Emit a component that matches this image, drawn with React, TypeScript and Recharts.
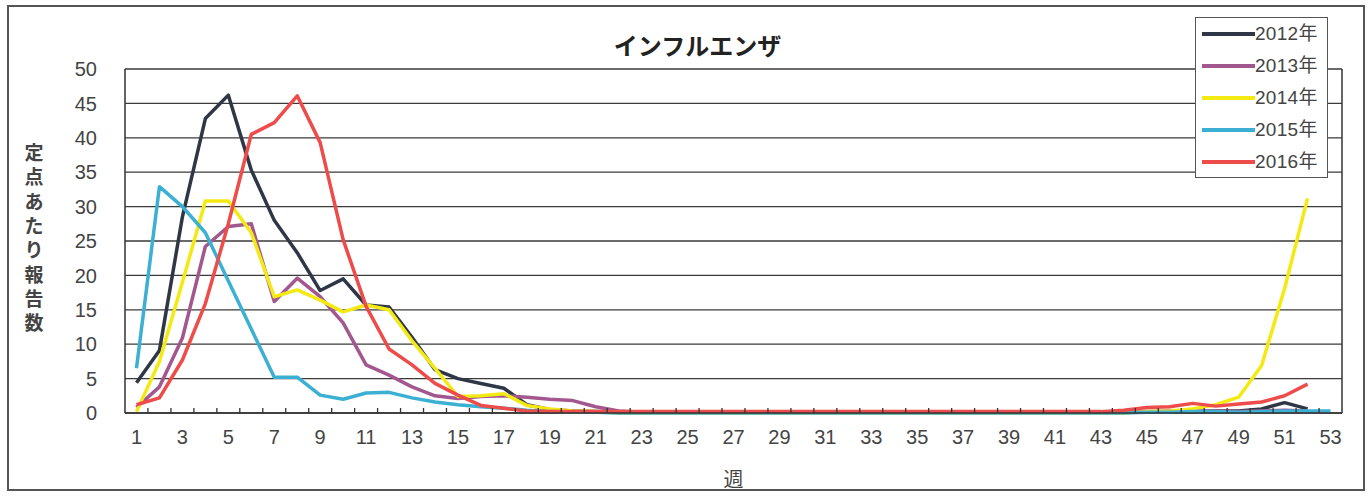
import React from 'react'
import { LineChart, Line, XAxis, YAxis, CartesianGrid, Label } from 'recharts'

// weekly reports per sentinel site, weeks 1..53
const WEEKS = [
  1, 2, 3, 4, 5, 6, 7, 8, 9, 10, 11, 12, 13, 14, 15, 16, 17, 18, 19, 20, 21, 22, 23, 24, 25, 26, 27,
  28, 29, 30, 31, 32, 33, 34, 35, 36, 37, 38, 39, 40, 41, 42, 43, 44, 45, 46, 47, 48, 49, 50, 51, 52, 53,
]
const WEEK_TICKS = [1, 3, 5, 7, 9, 11, 13, 15, 17, 19, 21, 23, 25, 27, 29, 31, 33, 35, 37, 39, 41, 43, 45, 47, 49, 51, 53]
const MINOR_TICKS = [
  1.5, 2.5, 3.5, 4.5, 5.5, 6.5, 7.5, 8.5, 9.5, 10.5, 11.5, 12.5, 13.5, 14.5, 15.5, 16.5, 17.5, 18.5, 19.5,
  20.5, 21.5, 22.5, 23.5, 24.5, 25.5, 26.5, 27.5, 28.5, 29.5, 30.5, 31.5, 32.5, 33.5, 34.5, 35.5, 36.5,
  37.5, 38.5, 39.5, 40.5, 41.5, 42.5, 43.5, 44.5, 45.5, 46.5, 47.5, 48.5, 49.5, 50.5, 51.5, 52.5,
]
const Y_TICKS = [0, 5, 10, 15, 20, 25, 30, 35, 40, 45, 50]

const Y2012 = [
  4.4, 9.1, 28.5, 42.8, 46.2, 35.3, 28.0, 23.3, 17.8, 19.5, 15.7, 15.4, 11.0, 6.3, 5.0, 4.3, 3.6, 1.2, 0.5, 0.3, 0.2,
  0.1, 0.1, 0.1, 0.1, 0.1, 0.1, 0.1, 0.1, 0.1, 0.1, 0.1, 0.1, 0.1, 0.1, 0.1, 0.1, 0.1, 0.1, 0.1, 0.1, 0.1, 0.1, 0.1,
  0.1, 0.2, 0.2, 0.3, 0.3, 0.6, 1.5, 0.6, null,
]
const Y2013 = [
  0.8, 3.8, 10.9, 24.2, 27.1, 27.5, 16.2, 19.6, 16.9, 13.1, 7.0, 5.5, 3.8, 2.5, 2.1, 2.4, 2.5, 2.3, 2.0, 1.8, 0.9,
  0.3, 0.1, 0.1, 0.1, 0.1, 0.1, 0.1, 0.1, 0.1, 0.1, 0.1, 0.1, 0.1, 0.1, 0.1, 0.1, 0.1, 0.1, 0.1, 0.1, 0.1, 0.1, 0.1,
  0.2, 0.3, 0.3, 0.3, 0.2, 0.3, 0.4, 0.3, null,
]
const Y2014 = [
  0.2, 7.5, 19.0, 30.8, 30.8, 26.2, 16.9, 17.9, 16.4, 14.7, 15.7, 15.0, 10.5, 6.5, 2.4, 2.5, 2.8, 1.1, 0.6, 0.3, 0.2,
  0, 0, 0, 0, 0, 0, 0, 0, 0, 0, 0, 0, 0, 0, 0, 0, 0, 0, 0, 0, 0, 0, 0,
  0.2, 0.3, 0.6, 1.2, 2.3, 6.9, 18.1, 31.2, null,
]
const Y2015 = [
  6.5, 32.9, 30.0, 26.2, 19.2, 12.2, 5.2, 5.2, 2.6, 2.0, 2.9, 3.0, 2.2, 1.6, 1.2, 0.9, 0.7, 0.4, 0.2, 0.1, 0.1,
  0, 0, 0, 0, 0, 0, 0, 0, 0, 0, 0, 0, 0, 0, 0, 0, 0, 0, 0, 0, 0, 0, 0,
  0.1, 0.1, 0.2, 0.2, 0.1, 0.2, 0.3, 0.3, 0.3,
]
const Y2016 = [
  1.2, 2.2, 7.7, 15.9, 27.5, 40.5, 42.2, 46.1, 39.3, 25.2, 15.5, 9.3, 7.0, 4.3, 2.6, 1.1, 0.7, 0.3, 0.2, 0.2, 0.2,
  0.2, 0.2, 0.2, 0.2, 0.2, 0.2, 0.2, 0.2, 0.2, 0.2, 0.2, 0.2, 0.2, 0.2, 0.2, 0.2, 0.2, 0.2, 0.2, 0.2, 0.2,
  0.2, 0.4, 0.8, 0.9, 1.4, 1.0, 1.3, 1.6, 2.5, 4.2, null,
]

const SERIES = [
  { key: 'y2012', name: '2012年', color: '#2f3747', values: Y2012 },
  { key: 'y2013', name: '2013年', color: '#a3578f', values: Y2013 },
  { key: 'y2014', name: '2014年', color: '#f3ea14', values: Y2014 },
  { key: 'y2015', name: '2015年', color: '#3cb0d2', values: Y2015 },
  { key: 'y2016', name: '2016年', color: '#ee4b4b', values: Y2016 },
]

const data = WEEKS.map((week, i) => {
  const row: Record<string, number | null> = { week }
  SERIES.forEach((s) => {
    row[s.key] = s.values[i]
  })
  return row
})

const FONT = '"Liberation Sans", "Noto Sans CJK JP", sans-serif'
const JP_FONT = '"Noto Sans CJK JP", sans-serif'
const INK = '#444'
const PLOT_BOTTOM = 413

// vertical, stacked y-axis title
function YTitle() {
  const chars = '定点あたり報告数'.split('')
  return (
    <g>
      {chars.map((c, i) => (
        <text
          key={i}
          x={34}
          y={160 + i * 24.3}
          textAnchor="middle"
          fontFamily={JP_FONT}
          fontSize={19}
          fontWeight={700}
          fill={INK}
        >
          {c}
        </text>
      ))}
    </g>
  )
}

// short upward ticks between the weeks
function MinorTick(props: { x?: number }) {
  const x = Number(props.x)
  return <line x1={x} y1={PLOT_BOTTOM} x2={x} y2={PLOT_BOTTOM - 5} stroke="#333" strokeWidth={1.3} />
}

function LegendBox() {
  return (
    <div
      style={{
        position: 'absolute',
        left: 1195,
        top: 17,
        width: 133,
        height: 161,
        border: '1.5px solid #555',
        background: '#fff',
        boxSizing: 'border-box',
      }}
    >
      {SERIES.map((s) => (
        <div key={s.key} style={{ display: 'flex', alignItems: 'center', height: 32 }}>
          <svg width={59} height={8} style={{ display: 'block' }}>
            <line x1={6} y1={4} x2={59} y2={4} stroke={s.color} strokeWidth={4} />
          </svg>
          <span style={{ fontFamily: FONT, fontSize: 19, color: INK, lineHeight: '20px', letterSpacing: 0.3 }}>
            {s.name}
          </span>
        </div>
      ))}
    </div>
  )
}

export default function App() {
  return (
    <div style={{ position: 'absolute', left: 0, top: 0, width: 1371, height: 497, background: '#fff' }}>
      <div
        style={{
          position: 'absolute',
          left: 7,
          top: 5,
          width: 1358,
          height: 486,
          border: '2px solid #555',
          boxSizing: 'border-box',
        }}
      />
      <div
        style={{
          position: 'absolute',
          left: 0,
          width: 1395,
          top: 30,
          textAlign: 'center',
          fontFamily: JP_FONT,
          fontWeight: 700,
          fontSize: 24,
          lineHeight: '30px',
          color: '#222',
        }}
      >
        インフルエンザ
      </div>
      <LineChart
        width={1371}
        height={497}
        data={data}
        margin={{ top: 69, right: 28, bottom: 53, left: 65 }}
        style={{ position: 'absolute', left: 0, top: 0 }}
      >
        <CartesianGrid yAxisId="l" vertical={false} stroke="#3a3a3a" strokeWidth={1.3} />
        <XAxis
          dataKey="week"
          type="number"
          domain={[0.5, 53.5]}
          ticks={WEEK_TICKS}
          interval={0}
          tickLine={false}
          tickMargin={11}
          axisLine={{ stroke: '#333', strokeWidth: 1.5 }}
          tick={{ fontFamily: FONT, fontSize: 20, fill: INK }}
          height={30}
        >
          <Label value="週" position="insideBottom" offset={-44} fontFamily={JP_FONT} fontSize={20} fill={INK} />
        </XAxis>
        <XAxis
          xAxisId="minor"
          dataKey="week"
          type="number"
          domain={[0.5, 53.5]}
          ticks={MINOR_TICKS}
          interval={0}
          height={1}
          axisLine={false}
          tickLine={false}
          tick={MinorTick}
        />
        <YAxis
          yAxisId="l"
          domain={[0, 50]}
          ticks={Y_TICKS}
          interval={0}
          width={60}
          tickLine={false}
          tickMargin={22}
          axisLine={{ stroke: '#333', strokeWidth: 1.5 }}
          tick={{ fontFamily: FONT, fontSize: 20, fill: INK }}
        >
          <Label content={() => <YTitle />} />
        </YAxis>
        <YAxis
          yAxisId="r"
          orientation="right"
          domain={[0, 50]}
          width={1}
          tick={false}
          tickLine={false}
          axisLine={{ stroke: '#333', strokeWidth: 1.5 }}
        />
        {SERIES.map((s) => (
          <Line
            key={s.key}
            yAxisId="l"
            dataKey={s.key}
            name={s.name}
            stroke={s.color}
            strokeWidth={3.5}
            dot={false}
            isAnimationActive={false}
            strokeLinejoin="round"
          />
        ))}
      </LineChart>
      <LegendBox />
    </div>
  )
}
